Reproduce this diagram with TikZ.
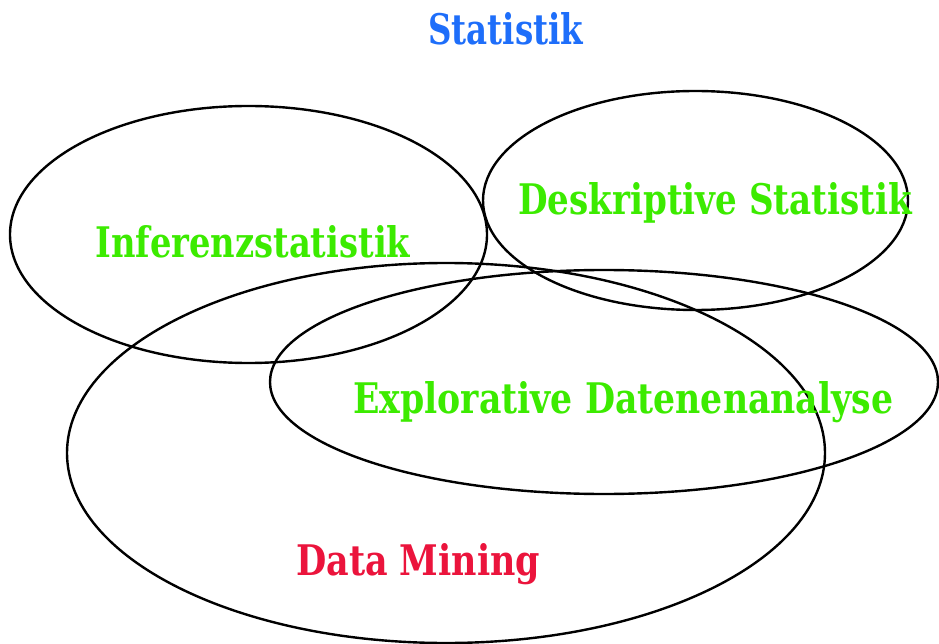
\documentclass[tikz,border=0pt]{standalone}
\usepackage{fontspec}
\setmainfont{DejaVu Serif}
\usepackage{graphicx}
\definecolor{tblue}{RGB}{30,110,250}
\definecolor{tgreen}{RGB}{60,235,0}
\definecolor{tred}{RGB}{235,20,60}
\tikzset{
  setring/.style={draw=black, line width=2.4pt},
  lbl/.style={anchor=base west, inner sep=0pt, font=\bfseries},
}
\newcommand{\fitbox}[3]{\resizebox{#1pt}{#2pt}{#3}}
\begin{document}
\begin{tikzpicture}[x=1pt,y=-1pt]
\useasboundingbox (0,0) rectangle (939,644);
\fill[white] (0,0) rectangle (939,644);
% sets
\draw[setring] (248.5,234.5) ellipse [x radius=238.5, y radius=128.5];
\draw[setring] (695.5,200.5) ellipse [x radius=212.5, y radius=109.5];
\draw[setring] (446,453) ellipse [x radius=379, y radius=190];
\draw[setring] (604,382) ellipse [x radius=334, y radius=112];
% labels
\node[lbl, text=tblue] (stat) at (428,45) {\fitbox{155}{32}{Statistik}};
\node[lbl, text=tgreen] (desk) at (518,215) {\fitbox{394}{32}{Deskriptive Statistik}};
\node[lbl, text=tgreen] (inf) at (95,258) {\fitbox{315}{32}{Inferenzstatistik}};
\node[lbl, text=tgreen] (expl) at (353,413) {\fitbox{540}{32}{Explorative Datenenanalyse}};
\node[lbl, text=tred] (dm) at (296,575) {\fitbox{244}{32}{Data Mining}};
\end{tikzpicture}
\end{document}
